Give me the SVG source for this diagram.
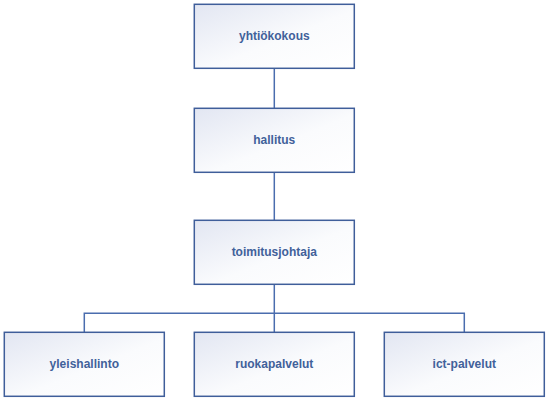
<svg xmlns="http://www.w3.org/2000/svg" width="551" height="403" viewBox="0 0 551 403">
<defs>
<linearGradient id="g" x1="0" y1="0" x2="1" y2="1">
<stop offset="0" stop-color="#E2E6F2"/>
<stop offset="0.55" stop-color="#FAFBFD"/>
<stop offset="1" stop-color="#FFFFFF"/>
</linearGradient>
<style>
.box{fill:url(#g);stroke:#3F5E9A;stroke-width:1.5}
.lbl{font-family:"Liberation Sans",Arial,sans-serif;font-weight:bold;font-size:12px;fill:#41619A;text-anchor:middle;dominant-baseline:central}
.con{fill:none;stroke:#4A6DAE;stroke-width:1.5}
</style>
</defs>
<rect width="551" height="403" fill="#FFFFFF"/>
<g id="connectors">
<line class="con" x1="274.3" y1="68.3" x2="274.3" y2="108.3"/>
<line class="con" x1="274.3" y1="172.3" x2="274.3" y2="220.3"/>
<line class="con" x1="274.3" y1="284.3" x2="274.3" y2="332.3"/>
<polyline class="con" points="84.3,332.3 84.3,313.3 464.3,313.3 464.3,332.3"/>
</g>
<g id="yhtiokokous">
<rect class="box" x="194.3" y="4.3" width="160" height="64"/>
<text class="lbl" x="274.3" y="36.3">yhtiökokous</text>
</g>
<g id="hallitus">
<rect class="box" x="194.3" y="108.3" width="160" height="64"/>
<text class="lbl" x="274.3" y="140.3">hallitus</text>
</g>
<g id="toimitusjohtaja">
<rect class="box" x="194.3" y="220.3" width="160" height="64"/>
<text class="lbl" x="274.3" y="252.3">toimitusjohtaja</text>
</g>
<g id="yleishallinto">
<rect class="box" x="4.3" y="332.3" width="160" height="64"/>
<text class="lbl" x="84.3" y="364.3">yleishallinto</text>
</g>
<g id="ruokapalvelut">
<rect class="box" x="194.3" y="332.3" width="160" height="64"/>
<text class="lbl" x="274.3" y="364.3">ruokapalvelut</text>
</g>
<g id="ict-palvelut">
<rect class="box" x="384.3" y="332.3" width="160" height="64"/>
<text class="lbl" x="464.3" y="364.3">ict-palvelut</text>
</g>
</svg>
